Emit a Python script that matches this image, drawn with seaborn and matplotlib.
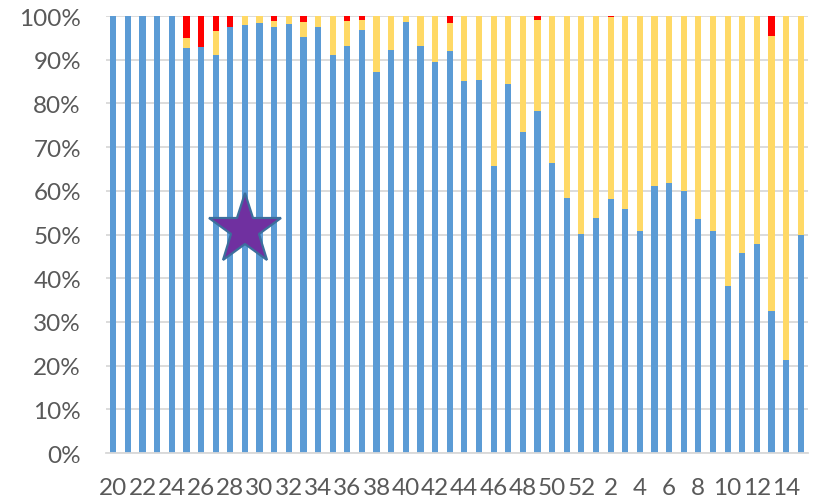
import matplotlib
matplotlib.use("Agg")
import matplotlib.pyplot as plt
import seaborn as sns
import pandas as pd
from matplotlib.ticker import PercentFormatter

# Week numbers: week 20 through 52, then weeks 1 to 15 of the next year
weeks = [str(w) for w in range(20, 53)] + [str(w) for w in range(1, 16)]

# Share of each category per week (percent)
blue_share = [100, 100, 100, 100, 100, 92.6, 92.8, 91.1, 97.4, 98.0,
              98.4, 97.4, 98.2, 95.3, 97.4, 91.1, 93.2, 96.8, 87.3, 92.2,
              98.7, 93.1, 89.5, 92.1, 85.1, 85.4, 65.7, 84.4, 73.4, 78.3,
              66.4, 58.3, 50.1, 53.8, 58.1, 55.8, 50.7, 61.1, 61.9, 60.0,
              53.5, 50.8, 38.2, 45.7, 47.8, 32.5, 21.2, 50.0]
yellow_share = [0, 0, 0, 0, 0, 2.4, 0, 5.4, 0, 2.0,
                1.6, 1.4, 1.8, 3.3, 2.6, 8.9, 5.6, 2.2, 12.7, 7.8,
                1.3, 6.9, 10.5, 6.3, 14.9, 14.6, 34.3, 15.6, 26.6, 20.9,
                33.6, 41.7, 49.9, 46.2, 41.6, 44.2, 49.3, 38.9, 38.1, 40.0,
                46.5, 49.2, 61.8, 54.3, 52.2, 62.9, 78.8, 50.0]
red_share = [0, 0, 0, 0, 0, 5.0, 7.2, 3.5, 2.6, 0,
             0, 1.2, 0, 1.4, 0, 0, 1.2, 1.0, 0, 0,
             0, 0, 0, 1.6, 0, 0, 0, 0, 0, 0.8,
             0, 0, 0, 0, 0.3, 0, 0, 0, 0, 0,
             0, 0, 0, 0, 0, 4.6, 0, 0]

BLUE, YELLOW, RED = "#5B9BD5", "#FFD966", "#FF0000"
GRID = "#D9D9D9"
TEXT = "#595959"

df = pd.DataFrame({"week": weeks, "blue": blue_share,
                   "yellow": yellow_share, "red": red_share})
tot = df[["blue", "yellow", "red"]].sum(axis=1)
df["b"] = df["blue"] / tot
df["by"] = (df["blue"] + df["yellow"]) / tot
df["byr"] = (df["blue"] + df["yellow"] + df["red"]) / tot

sns.set_theme(style="white")
plt.rcParams["font.family"] = ["Lato", "DejaVu Sans"]

fig = plt.figure(figsize=(8.21, 5.02), dpi=100)
ax = fig.add_axes([0.1291, 0.0956, 0.9842 - 0.1291, 0.9661 - 0.0956])

# Stacked 100% bars drawn as cumulative layers
for col, color in (("byr", RED), ("by", YELLOW), ("b", BLUE)):
    sns.barplot(data=df, x="week", y=col, order=weeks, color=color,
                width=0.42, saturation=1, ax=ax, linewidth=0,
                errorbar=None, zorder=2)

ax.set_ylim(0, 1)
ax.set_xlim(-0.5, len(weeks) - 0.5)
ax.set_yticks([i / 10 for i in range(11)])
ax.yaxis.set_major_formatter(PercentFormatter(1.0, decimals=0))
ax.set_xticks(range(0, len(weeks), 2))
ax.set_xticklabels(weeks[::2])
ax.set_xlabel("")
ax.set_ylabel("")

ax.grid(axis="y", color=GRID, linewidth=1.3, zorder=0)
ax.set_axisbelow(True)
for side in ("top", "right", "left"):
    ax.spines[side].set_visible(False)
ax.spines["bottom"].set_color(GRID)
ax.spines["bottom"].set_linewidth(1.3)
ax.tick_params(axis="both", length=0, labelsize=17.5, colors=TEXT)
ax.tick_params(axis="y", pad=18)
ax.tick_params(axis="x", pad=17)

# Star marker over the chart
ax.plot([9], [0.51], marker="*", markersize=54, color="#7030A0",
        markeredgecolor="#3C6E9C", markeredgewidth=1.6, zorder=5,
        linestyle="none")

fig.savefig("out.png", dpi=100)
